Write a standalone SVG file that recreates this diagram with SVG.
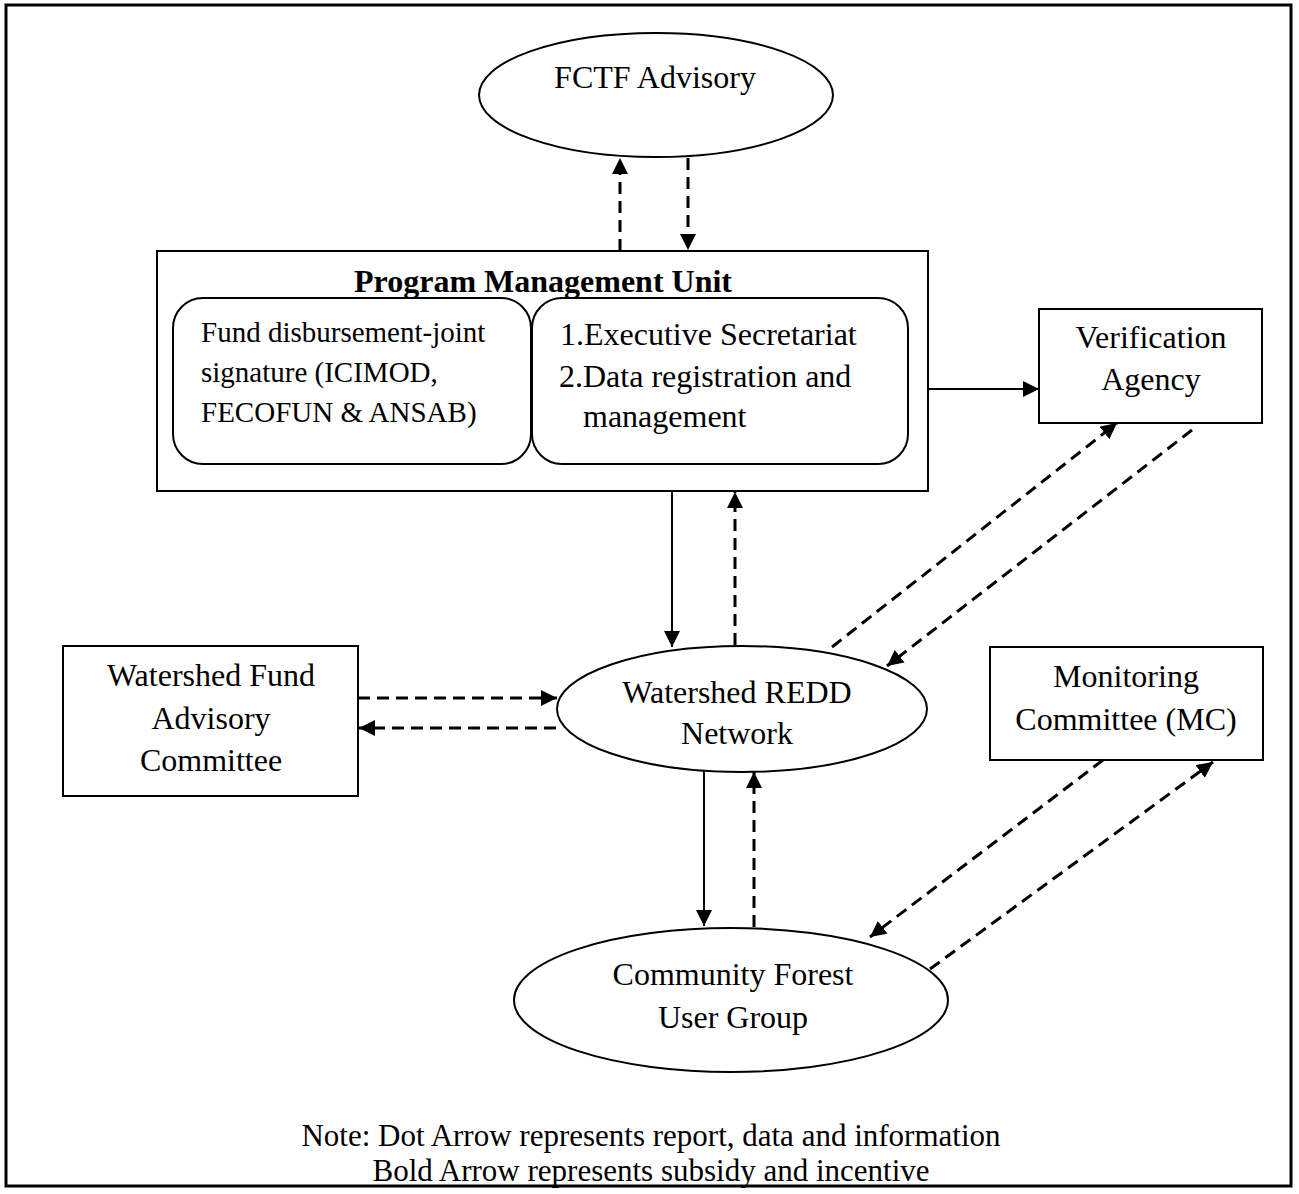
<svg xmlns="http://www.w3.org/2000/svg" width="1299" height="1194" viewBox="0 0 1299 1194">
  <style>
    .box { fill: #fff; stroke: #000; stroke-width: 2; }
    .frame { fill: none; stroke: #000; stroke-width: 3; }
    .t { font-family: "Liberation Serif", "Times New Roman", serif; font-size: 32px; fill: #000; }
    .s { font-size: 29px; }
    .n { font-size: 31px; }
    .c { text-anchor: middle; }
    .b { font-weight: bold; }
    .solid { fill: none; stroke: #000; stroke-width: 2; marker-end: url(#head); }
    .dash { fill: none; stroke: #000; stroke-width: 3; stroke-dasharray: 12 7; marker-end: url(#head); }
  </style>
  <defs>
    <marker id="head" viewBox="0 0 16 16" refX="16" refY="8" markerWidth="16" markerHeight="16" markerUnits="userSpaceOnUse" orient="auto">
      <path d="M0,0 L16,8 L0,16 z" fill="#000"/>
    </marker>
  </defs>
  <rect width="1299" height="1194" fill="#fff"/>
  <!-- page frame -->
  <rect class="frame" x="6" y="5" width="1285" height="1181"/>

  <g id="fctf-advisory">
    <ellipse class="box" cx="656" cy="95" rx="177" ry="62"/>
    <text class="t c" x="655" y="88">FCTF Advisory</text>
  </g>

  <g id="program-management-unit">
    <rect class="box" x="157" y="251" width="771" height="240"/>
    <text class="t c b" x="543" y="292">Program Management Unit</text>
    <g id="fund-disbursement">
      <rect class="box" x="173" y="298" width="358" height="166" rx="30" ry="30"/>
      <text class="t s" x="201" y="342">Fund disbursement-joint</text>
      <text class="t s" x="201" y="382">signature (ICIMOD,</text>
      <text class="t s" x="201" y="422">FECOFUN &amp; ANSAB)</text>
    </g>
    <g id="executive-secretariat">
      <rect class="box" x="532" y="298" width="376" height="166" rx="30" ry="30"/>
      <text class="t" x="560" y="345">1.Executive Secretariat</text>
      <text class="t" x="559" y="387">2.Data registration and</text>
      <text class="t" x="583" y="427">management</text>
    </g>
  </g>

  <g id="verification-agency">
    <rect class="box" x="1039" y="309" width="223" height="114"/>
    <text class="t c" x="1151" y="348">Verification</text>
    <text class="t c" x="1151" y="390">Agency</text>
  </g>

  <g id="watershed-fund-advisory-committee">
    <rect class="box" x="63" y="646" width="295" height="150"/>
    <text class="t c" x="211" y="686">Watershed Fund</text>
    <text class="t c" x="211" y="729">Advisory</text>
    <text class="t c" x="211" y="771">Committee</text>
  </g>

  <g id="watershed-redd-network">
    <ellipse class="box" cx="742" cy="709" rx="185" ry="63"/>
    <text class="t c" x="737" y="703">Watershed REDD</text>
    <text class="t c" x="737" y="744">Network</text>
  </g>

  <g id="monitoring-committee">
    <rect class="box" x="990" y="647" width="273" height="113"/>
    <text class="t c" x="1126" y="687">Monitoring</text>
    <text class="t c" x="1126" y="730">Committee (MC)</text>
  </g>

  <g id="community-forest-user-group">
    <ellipse class="box" cx="731" cy="1000" rx="217" ry="72"/>
    <text class="t c" x="733" y="985">Community Forest</text>
    <text class="t c" x="733" y="1028">User Group</text>
  </g>

  <g id="connectors">
    <line class="dash" x1="620" y1="251" x2="620" y2="158"/>
    <line class="dash" x1="688" y1="158" x2="688" y2="250"/>
    <line class="solid" x1="928" y1="389" x2="1039" y2="389"/>
    <line class="solid" x1="672" y1="491" x2="672" y2="647"/>
    <line class="dash" x1="735" y1="645" x2="735" y2="492"/>
    <line class="dash" x1="358" y1="698" x2="557" y2="698"/>
    <line class="dash" x1="556" y1="728" x2="359" y2="728"/>
    <line class="dash" x1="832" y1="647" x2="1117" y2="423"/>
    <line class="dash" x1="1192" y1="430" x2="887" y2="666"/>
    <line class="solid" x1="704" y1="771" x2="704" y2="926"/>
    <line class="dash" x1="754" y1="927" x2="754" y2="772"/>
    <line class="dash" x1="1103" y1="760" x2="870" y2="937"/>
    <line class="dash" x1="930" y1="969" x2="1213" y2="762"/>
  </g>

  <g id="note">
    <text class="t n c" x="651" y="1146">Note: Dot Arrow represents report, data and information</text>
    <text class="t n c" x="651" y="1181">Bold Arrow represents subsidy and incentive</text>
  </g>
</svg>
